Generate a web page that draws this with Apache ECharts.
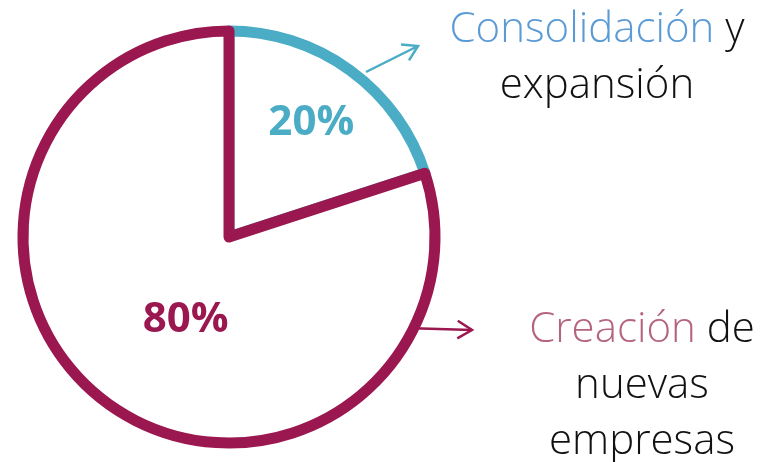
<!DOCTYPE html>
<html><head><meta charset="utf-8">
<script src="https://cdn.jsdelivr.net/npm/echarts@6/dist/echarts.min.js"></script>
<style>html,body{margin:0;padding:0;background:#fff}#c{width:766px;height:462px}</style>
</head><body><div id="c"></div>
<script>
const categories = ['Consolidación', 'Creación'];
const captionRest = [' y\nexpansión', ' de\nnuevas\nempresas'];
const values = [20, 80];
const colors = ['#4BACC6', '#9B174F'];
const textColors = ['#5B9BD5', '#B5647F'];

const chart = echarts.init(document.getElementById('c'));
const FONT = '"Open Sans", sans-serif';
function caption(i, x, y) {
  const lines = (categories[i] + captionRest[i]).split('\n');
  const first = lines[0];
  const txt = '{a|' + categories[i] + '}{b|' + first.slice(categories[i].length) + '}' +
    lines.slice(1).map(l => '\n{b|' + l + '}').join('');
  return {
    type: 'text', x: x, y: y,
    style: {
      text: txt, align: 'center', verticalAlign: 'top',
      rich: {
        a: { fontFamily: FONT, fontWeight: 300, fontSize: 42, fill: textColors[i], lineHeight: 56 },
        b: { fontFamily: FONT, fontWeight: 300, fontSize: 42, fill: '#111', lineHeight: 56 }
      }
    }
  };
}
function arrow(x1, y1, x2, y2, color) {
  const a = Math.atan2(y2 - y1, x2 - x1), L = 17, w = 0.55;
  return [
    { type: 'line', shape: { x1, y1, x2, y2 }, style: { stroke: color, lineWidth: 2.5 } },
    { type: 'polyline', shape: { points: [
      [x2 - L * Math.cos(a - w), y2 - L * Math.sin(a - w)], [x2, y2],
      [x2 - L * Math.cos(a + w), y2 - L * Math.sin(a + w)]] },
      style: { stroke: color, lineWidth: 2.5, fill: null } }
  ];
}
chart.setOption({
  animation: false,
  series: [{
    type: 'pie',
    center: [229, 237],
    radius: [0, 206],
    startAngle: 90,
    clockwise: true,
    silent: true,
    label: { show: true, position: 'inside', fontFamily: FONT, fontWeight: 'bold', fontSize: 42 },
    labelLine: { show: false },
    data: values.map((v, i) => ({
      value: v, name: categories[i],
      itemStyle: { color: '#fff', borderColor: colors[i], borderWidth: 11, borderJoin: 'round' },
      label: { color: colors[i], formatter: '{d}%', offset: i === 0 ? [20, -28] : [19, -3] }
    }))
  }],
  graphic: [
    caption(0, 597, 2),
    caption(1, 642, 302),
    ...arrow(366, 72, 418, 46, colors[0]),
    ...arrow(405, 328, 472, 330, colors[1])
  ]
});
</script></body></html>
